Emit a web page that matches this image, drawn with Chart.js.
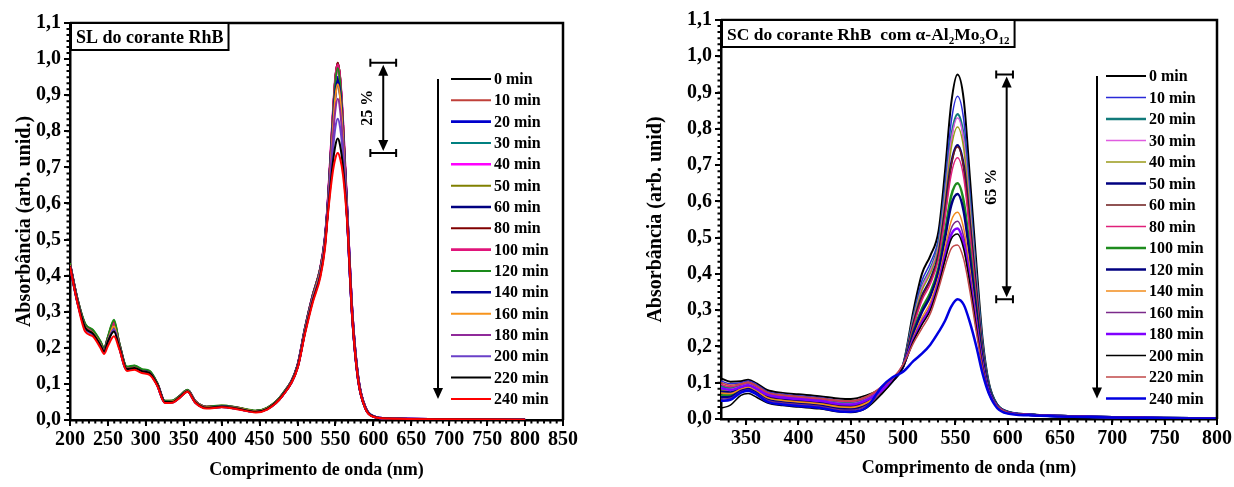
<!DOCTYPE html>
<html lang="pt">
<head>
<meta charset="utf-8">
<title>Absorbância RhB</title>
<script src="https://cdn.jsdelivr.net/npm/chart.js@4.4.1/dist/chart.umd.min.js"></script>
<style>
  html, body { margin: 0; padding: 0; background: #fff; }
  .wrap { position: relative; width: 1234px; height: 487px; overflow: hidden; }
  .panel { position: absolute; top: 0; width: 617px; height: 487px; }
  #left { left: 0; }
  #right { left: 617px; }
</style>
</head>
<body>
<div class="wrap">
  <div class="panel" id="left"><canvas id="slChart" width="617" height="487"></canvas></div>
  <div class="panel" id="right"><canvas id="scChart" width="617" height="487"></canvas></div>
</div>
<script>
// ── Shared axes / labels ─────────────────────────────────────────
const minutes = [0, 10, 20, 30, 40, 50, 60, 80, 100, 120, 140, 160, 180, 200, 220, 240];
const absTicks = [0, 0.1, 0.2, 0.3, 0.4, 0.5, 0.6, 0.7, 0.8, 0.9, 1.0, 1.1];
const slTicks = [200, 250, 300, 350, 400, 450, 500, 550, 600, 650, 700, 750, 800, 850];
const scTicks = [350, 400, 450, 500, 550, 600, 650, 700, 750, 800];

// ── SL (fotólise) ────────────────────────────────────────────────
const slWavelength = [200, 210, 220, 230, 240, 245, 250, 258, 265, 275, 285, 295, 305, 315, 325, 335, 345, 355, 365, 380, 400, 420, 445, 460, 480, 500, 510, 520, 530, 536, 540, 546, 550, 553, 556, 560, 566, 572, 580, 590, 600, 620, 700, 800];

const sl0   = [0.43,0.33,0.262,0.245,0.213,0.195,0.222,0.262,0.208,0.143,0.146,0.137,0.132,0.1,0.052,0.052,0.066,0.082,0.052,0.036,0.039,0.034,0.025,0.033,0.07,0.15,0.255,0.345,0.42,0.5,0.6,0.822,0.951,0.99,0.951,0.818,0.55,0.3,0.115,0.032,0.01,0.004,0.002,0.001];
const sl10  = [0.43,0.328,0.258,0.243,0.212,0.194,0.224,0.266,0.207,0.142,0.145,0.136,0.131,0.099,0.05,0.051,0.065,0.081,0.051,0.035,0.038,0.033,0.024,0.032,0.069,0.149,0.253,0.343,0.418,0.498,0.598,0.82,0.95,0.99,0.95,0.816,0.549,0.299,0.114,0.031,0.01,0.004,0.002,0.001];
const sl20  = [0.428,0.326,0.256,0.24,0.209,0.19,0.219,0.256,0.203,0.14,0.143,0.134,0.129,0.098,0.049,0.05,0.064,0.08,0.05,0.034,0.037,0.032,0.023,0.031,0.068,0.148,0.251,0.34,0.414,0.494,0.594,0.8,0.915,0.95,0.915,0.796,0.545,0.297,0.113,0.031,0.01,0.004,0.002,0.001];
const sl30  = [0.432,0.332,0.264,0.247,0.216,0.197,0.227,0.27,0.21,0.144,0.148,0.138,0.133,0.101,0.052,0.053,0.067,0.083,0.052,0.036,0.039,0.034,0.025,0.033,0.071,0.151,0.256,0.346,0.42,0.5,0.6,0.819,0.947,0.985,0.947,0.816,0.55,0.3,0.115,0.032,0.01,0.004,0.002,0.001];
const sl40  = [0.43,0.33,0.26,0.244,0.213,0.194,0.224,0.262,0.207,0.142,0.146,0.136,0.131,0.1,0.051,0.051,0.066,0.081,0.051,0.035,0.038,0.033,0.024,0.032,0.07,0.15,0.254,0.344,0.418,0.498,0.598,0.817,0.942,0.98,0.942,0.813,0.549,0.299,0.114,0.032,0.01,0.004,0.002,0.001];
const sl50  = [0.434,0.334,0.266,0.249,0.218,0.199,0.23,0.275,0.213,0.146,0.15,0.14,0.135,0.102,0.053,0.053,0.067,0.083,0.053,0.037,0.04,0.035,0.025,0.033,0.071,0.151,0.256,0.345,0.419,0.499,0.599,0.814,0.938,0.975,0.938,0.81,0.549,0.299,0.115,0.032,0.01,0.004,0.002,0.001];
const sl60  = [0.43,0.33,0.261,0.245,0.214,0.195,0.225,0.265,0.209,0.143,0.147,0.137,0.132,0.1,0.051,0.052,0.066,0.082,0.052,0.036,0.038,0.034,0.024,0.032,0.069,0.149,0.252,0.341,0.415,0.495,0.595,0.797,0.91,0.945,0.91,0.793,0.546,0.298,0.114,0.031,0.01,0.004,0.002,0.001];
const sl80  = [0.432,0.332,0.264,0.247,0.215,0.197,0.227,0.27,0.21,0.145,0.148,0.138,0.133,0.101,0.052,0.052,0.066,0.082,0.052,0.036,0.039,0.034,0.025,0.033,0.07,0.15,0.255,0.345,0.42,0.5,0.6,0.822,0.951,0.99,0.951,0.818,0.55,0.3,0.115,0.032,0.01,0.004,0.002,0.001];
const sl100 = [0.431,0.331,0.263,0.246,0.214,0.196,0.226,0.268,0.209,0.144,0.147,0.137,0.132,0.1,0.051,0.052,0.066,0.082,0.052,0.036,0.038,0.034,0.024,0.032,0.07,0.15,0.254,0.344,0.419,0.499,0.599,0.819,0.947,0.985,0.947,0.816,0.55,0.3,0.115,0.032,0.01,0.004,0.002,0.001];
const sl120 = [0.434,0.335,0.267,0.25,0.219,0.2,0.231,0.278,0.214,0.148,0.151,0.141,0.136,0.103,0.053,0.054,0.068,0.084,0.053,0.037,0.04,0.035,0.026,0.034,0.072,0.152,0.257,0.346,0.42,0.5,0.6,0.814,0.938,0.975,0.938,0.81,0.549,0.299,0.115,0.032,0.01,0.004,0.002,0.001];
const sl140 = [0.428,0.327,0.257,0.241,0.21,0.191,0.22,0.255,0.204,0.141,0.144,0.135,0.13,0.098,0.05,0.05,0.064,0.08,0.05,0.034,0.037,0.032,0.023,0.031,0.068,0.148,0.25,0.34,0.413,0.493,0.593,0.794,0.906,0.94,0.906,0.79,0.545,0.297,0.113,0.031,0.01,0.004,0.002,0.001];
const sl160 = [0.429,0.328,0.258,0.242,0.211,0.192,0.221,0.26,0.205,0.142,0.145,0.135,0.13,0.099,0.05,0.051,0.065,0.081,0.051,0.035,0.037,0.033,0.024,0.032,0.069,0.148,0.25,0.339,0.412,0.492,0.592,0.788,0.897,0.93,0.897,0.785,0.545,0.297,0.113,0.031,0.01,0.004,0.002,0.001];
const sl180 = [0.427,0.325,0.254,0.238,0.207,0.189,0.216,0.25,0.2,0.14,0.142,0.133,0.128,0.097,0.049,0.049,0.063,0.079,0.049,0.033,0.036,0.031,0.022,0.03,0.067,0.146,0.246,0.334,0.406,0.486,0.586,0.765,0.861,0.89,0.861,0.762,0.542,0.295,0.112,0.031,0.01,0.004,0.002,0.001];
const sl200 = [0.426,0.324,0.253,0.237,0.206,0.188,0.217,0.252,0.2,0.139,0.142,0.133,0.128,0.097,0.049,0.049,0.063,0.079,0.049,0.033,0.036,0.031,0.022,0.03,0.067,0.145,0.244,0.331,0.402,0.482,0.58,0.734,0.812,0.835,0.812,0.732,0.538,0.293,0.111,0.03,0.01,0.004,0.002,0.001];
const sl220 = [0.427,0.326,0.256,0.24,0.208,0.19,0.218,0.245,0.202,0.141,0.144,0.135,0.13,0.099,0.05,0.05,0.064,0.08,0.05,0.034,0.037,0.032,0.023,0.031,0.068,0.146,0.244,0.33,0.4,0.478,0.574,0.703,0.762,0.78,0.762,0.7,0.534,0.291,0.11,0.03,0.01,0.004,0.002,0.001];
const sl240 = [0.425,0.322,0.245,0.232,0.2,0.183,0.205,0.232,0.196,0.136,0.139,0.13,0.125,0.095,0.047,0.048,0.062,0.078,0.048,0.032,0.035,0.03,0.021,0.029,0.066,0.143,0.24,0.325,0.395,0.472,0.568,0.68,0.726,0.74,0.726,0.678,0.53,0.289,0.109,0.029,0.009,0.004,0.002,0.001];

const slSeries = [sl0, sl10, sl20, sl30, sl40, sl50, sl60, sl80, sl100, sl120, sl140, sl160, sl180, sl200, sl220, sl240];
const slColors = ['#000000', '#c0403a', '#0000cc', '#008080', '#ff00ff', '#808000', '#000080', '#800000', '#e0147a', '#1a8a1a', '#000099', '#f7941d', '#902a9a', '#6a40c8', '#000000', '#ff0000'];
const slWidths = [2, 2, 2.6, 2, 2.6, 2, 2.6, 2, 2.6, 2, 2.6, 2, 2, 2, 2, 2];

// ── SC (com α-Al2Mo3O12) ─────────────────────────────────────────
const scWavelength = [326, 335, 345, 352, 360, 370, 385, 400, 420, 440, 450, 465, 480, 490, 500, 510, 518, 526, 534, 540, 546, 552, 558, 564, 570, 576, 582, 590, 600, 620, 650, 700, 750, 800];

const sc0   = [.112,.103,.104,.108,.098,.08,.072,.068,.063,.056,.055,.065,.085,.11,.15,.30,.40,.45,.52,.68,.87,.95,.88,.66,.43,.22,.10,.04,.02,.013,.009,.005,.003,.001];
const sc10  = [.105,.097,.1,.105,.095,.076,.068,.064,.059,.051,.05,.061,.082,.108,.148,.288,.381,.43,.5,.647,.819,.89,.824,.62,.406,.21,.096,.039,.02,.013,.009,.005,.003,.001];
const sc20  = [.09,.085,.093,.098,.088,.07,.062,.058,.053,.046,.045,.056,.08,.107,.147,.279,.365,.413,.483,.619,.776,.84,.777,.587,.386,.201,.093,.039,.02,.012,.008,.005,.003,.001];
const sc30  = [.085,.081,.09,.095,.085,.067,.059,.055,.05,.043,.042,.054,.08,.107,.147,.277,.362,.409,.479,.614,.768,.83,.768,.581,.382,.2,.092,.039,.02,.012,.008,.005,.003,.001];
const sc40  = [.08,.077,.087,.092,.082,.064,.056,.052,.047,.041,.04,.052,.078,.106,.146,.272,.354,.401,.471,.6,.746,.805,.744,.564,.371,.195,.091,.038,.02,.012,.008,.005,.003,.001];
const sc50  = [.075,.073,.085,.09,.08,.062,.054,.05,.045,.037,.036,.048,.078,.106,.146,.263,.338,.384,.454,.572,.704,.755,.697,.531,.351,.187,.088,.038,.019,.012,.008,.005,.003,.001];
const sc60  = [.07,.069,.082,.087,.077,.06,.052,.048,.043,.035,.034,.046,.076,.105,.145,.262,.336,.382,.452,.569,.70,.75,.693,.528,.349,.186,.087,.038,.019,.012,.008,.005,.003,.001];
const sc80  = [.095,.089,.095,.1,.09,.072,.064,.06,.055,.049,.048,.06,.085,.109,.148,.256,.327,.372,.442,.553,.674,.72,.665,.508,.337,.181,.085,.038,.019,.012,.008,.005,.003,.001];
const sc100 = [.065,.065,.08,.085,.075,.057,.049,.045,.04,.031,.03,.042,.076,.105,.145,.243,.304,.348,.418,.514,.615,.65,.599,.462,.309,.169,.081,.037,.019,.012,.008,.005,.003,.001];
const sc120 = [.06,.061,.078,.083,.073,.054,.046,.042,.037,.028,.027,.039,.075,.104,.144,.237,.295,.338,.408,.497,.589,.62,.571,.442,.297,.164,.079,.036,.019,.012,.008,.005,.003,.001];
const sc140 = [.072,.07,.083,.088,.078,.059,.051,.047,.042,.033,.032,.044,.077,.106,.146,.227,.279,.321,.391,.47,.546,.57,.524,.409,.276,.155,.076,.036,.018,.012,.008,.005,.003,.001];
const sc160 = [.055,.057,.075,.08,.07,.052,.044,.04,.035,.025,.024,.036,.074,.104,.144,.222,.271,.312,.382,.456,.525,.545,.501,.393,.266,.151,.074,.036,.018,.012,.008,.005,.003,.001];
const sc180 = [.085,.08,.088,.093,.083,.067,.059,.055,.05,.041,.04,.052,.08,.108,.147,.219,.264,.305,.375,.445,.508,.525,.482,.38,.258,.148,.073,.035,.018,.012,.008,.005,.003,.001];
const sc200 = [.03,.038,.065,.07,.06,.045,.037,.033,.028,.019,.018,.03,.07,.103,.143,.216,.26,.30,.37,.437,.496,.51,.468,.37,.252,.145,.072,.035,.018,.012,.008,.005,.003,.001];
const sc220 = [.1,.093,.097,.102,.092,.074,.066,.062,.057,.051,.05,.062,.09,.112,.15,.21,.25,.29,.36,.42,.47,.48,.44,.35,.24,.14,.07,.035,.018,.012,.008,.005,.003,.001];
const sc240 = [.05,.053,.073,.078,.068,.048,.04,.036,.031,.021,.02,.032,.09,.115,.13,.16,.18,.205,.24,.27,.31,.33,.315,.265,.2,.125,.07,.03,.015,.01,.007,.004,.002,.001];

const scSeries = [sc0, sc10, sc20, sc30, sc40, sc50, sc60, sc80, sc100, sc120, sc140, sc160, sc180, sc200, sc220, sc240];
const scColors = ['#000000', '#2a2ad8', '#127a7a', '#e05ce0', '#9a9a1a', '#000080', '#6b1a1a', '#e0207a', '#1e8c1e', '#000080', '#f28c1c', '#7b2a8a', '#8000ff', '#000000', '#c04848', '#0000e0'];
const scWidths = [2, 1.5, 2.5, 1.5, 1.5, 2.5, 1.5, 1.5, 2.5, 2.5, 1.5, 1.5, 2.5, 1.5, 1.5, 2.5];

// ── Helpers ──────────────────────────────────────────────────────
const serif = '"Liberation Serif", "Times New Roman", serif';
const fmtAbs = v => v.toFixed(1).replace('.', ',');
const peak = arr => Math.max(...arr);

function arrowHead(ctx, x, y, dir) {
  // dir: 1 points down, -1 points up
  ctx.beginPath();
  ctx.moveTo(x, y);
  ctx.lineTo(x - 5, y - dir * 11);
  ctx.lineTo(x + 5, y - dir * 11);
  ctx.closePath();
  ctx.fill();
}

function minorTicks(ctx, scale, majors, parts, a) {
  const step = (majors[1] - majors[0]) / parts;
  let v = majors[0];
  while (v - step >= scale.min - 1e-9) v -= step;
  ctx.beginPath();
  for (; v <= scale.max + 1e-9; v += step) {
    const p = scale.getPixelForValue(v);
    if (scale.isHorizontal()) { ctx.moveTo(p, a.bottom); ctx.lineTo(p, a.bottom + 3.5); }
    else { ctx.moveTo(a.left, p); ctx.lineTo(a.left - 3.5, p); }
  }
  ctx.stroke();
}

// ── Decorations: frame, minor ticks, title box, legend, arrows ───
const decorPlugin = {
  id: 'decor',
  afterDraw(chart, args, o) {
    const { ctx, chartArea: a, scales: { x, y } } = chart;
    ctx.save();
    ctx.strokeStyle = '#000';
    ctx.fillStyle = '#000';

    // box frame (top + right)
    ctx.lineWidth = 2.5;
    ctx.beginPath();
    ctx.moveTo(a.left, a.top);
    ctx.lineTo(a.right, a.top);
    ctx.lineTo(a.right, a.bottom);
    ctx.stroke();

    ctx.lineWidth = 2;
    minorTicks(ctx, x, o.xTicks, 6, a);
    minorTicks(ctx, y, absTicks, 6, a);

    // title box
    const big = o.titleSize, small = Math.round(o.titleSize * 0.65);
    ctx.textBaseline = 'alphabetic';
    ctx.textAlign = 'left';
    let tw = 0;
    o.title.forEach(([txt, sub]) => {
      ctx.font = `bold ${sub ? small : big}px ${serif}`;
      tw += ctx.measureText(txt).width;
    });
    const bx = a.left + 1, by = a.top;
    ctx.fillStyle = '#fff';
    ctx.fillRect(bx, by, tw + 10, 27);
    ctx.lineWidth = 2;
    ctx.strokeRect(bx, by, tw + 10, 27);
    ctx.fillStyle = '#000';
    let tx = bx + 5;
    o.title.forEach(([txt, sub]) => {
      ctx.font = `bold ${sub ? small : big}px ${serif}`;
      ctx.fillText(txt, tx, by + 20 + (sub ? 4 : 0));
      tx += ctx.measureText(txt).width;
    });

    // legend with downward arrow
    const lx0 = a.right - o.legendX;
    const top = a.top + 56;
    ctx.font = `bold 16px ${serif}`;
    ctx.textBaseline = 'middle';
    chart.data.datasets.forEach((ds, i) => {
      const ly = top + i * o.legendStep;
      ctx.strokeStyle = ds.borderColor;
      ctx.lineWidth = ds.borderWidth;
      ctx.beginPath();
      ctx.moveTo(lx0, ly);
      ctx.lineTo(lx0 + 40, ly);
      ctx.stroke();
      ctx.fillStyle = '#000';
      ctx.fillText(ds.label, lx0 + 43, ly + 1);
    });
    const n = chart.data.datasets.length;
    const ax = lx0 - o.arrowGap;
    const abot = top + (n - 1) * o.legendStep;
    ctx.strokeStyle = '#000';
    ctx.fillStyle = '#000';
    ctx.lineWidth = 2;
    ctx.beginPath();
    ctx.moveTo(ax, top);
    ctx.lineTo(ax, abot - 8);
    ctx.stroke();
    arrowHead(ctx, ax, abot, 1);

    // percentage drop between first and last peak
    const [c0, cx, c1] = o.dropX.map(v => x.getPixelForValue(v));
    const yt = y.getPixelForValue(o.drop[0]);
    const yb = y.getPixelForValue(o.drop[1]);
    ctx.lineWidth = 2;
    ctx.beginPath();
    ctx.moveTo(c0, yt); ctx.lineTo(c1, yt);
    ctx.moveTo(c0, yt - 4); ctx.lineTo(c0, yt + 4);
    ctx.moveTo(c1, yt - 4); ctx.lineTo(c1, yt + 4);
    ctx.moveTo(c0, yb); ctx.lineTo(c1, yb);
    ctx.moveTo(c0, yb - 4); ctx.lineTo(c0, yb + 4);
    ctx.moveTo(c1, yb - 4); ctx.lineTo(c1, yb + 4);
    ctx.moveTo(cx, yt + 10); ctx.lineTo(cx, yb - 10);
    ctx.stroke();
    arrowHead(ctx, cx, yt + 2, -1);
    arrowHead(ctx, cx, yb - 2, 1);

    ctx.translate(cx - 15, (yt + yb) / 2);
    ctx.rotate(-Math.PI / 2);
    ctx.textAlign = 'center';
    ctx.textBaseline = 'middle';
    ctx.font = `bold 16px ${serif}`;
    ctx.fillText(o.dropLabel, 0, 0);
    ctx.restore();
  }
};

// ── Chart builder ────────────────────────────────────────────────
function axisStyle() {
  return {
    grid: { drawOnChartArea: false, drawTicks: true, tickLength: 6, lineWidth: 2, color: '#000' },
    border: { display: true, width: 2.5, color: '#000' },
  };
}

function makeChart(id, cfg) {
  return new Chart(document.getElementById(id), {
    type: 'line',
    data: {
      datasets: cfg.series.map((vals, i) => ({
        label: minutes[i] + ' min',
        data: vals.map((v, k) => ({ x: cfg.wl[k], y: v })),
        borderColor: cfg.colors[i],
        borderWidth: cfg.widths[i],
        pointRadius: 0,
        fill: false,
        cubicInterpolationMode: 'monotone',
        order: cfg.series.length - 1 - i,
      }))
    },
    options: {
      responsive: false,
      animation: false,
      layout: { padding: cfg.padding },
      plugins: {
        legend: { display: false },
        tooltip: { enabled: false },
        decor: cfg.decor,
      },
      scales: {
        x: {
          type: 'linear',
          min: cfg.xMin,
          max: cfg.xMax,
          ...axisStyle(),
          afterBuildTicks: s => { s.ticks = cfg.decor.xTicks.map(v => ({ value: v })); },
          afterFit: s => { s.height = cfg.xHeight; },
          ticks: { color: '#000', font: { family: serif, size: 20, weight: 'bold' }, padding: 2, maxRotation: 0, autoSkip: false },
          title: {
            display: true, text: 'Comprimento de onda (nm)', color: '#000',
            font: { family: serif, size: 18, weight: 'bold' },
            padding: { top: 0, bottom: cfg.xTitlePad }
          }
        },
        y: {
          type: 'linear',
          min: 0,
          max: 1.1,
          ...axisStyle(),
          afterBuildTicks: s => { s.ticks = absTicks.map(v => ({ value: v })); },
          afterFit: s => { s.width = cfg.yWidth; },
          ticks: { color: '#000', font: { family: serif, size: 20, weight: 'bold' }, padding: 3, callback: fmtAbs },
          title: {
            display: true, text: cfg.yTitle, color: '#000',
            font: { family: serif, size: 20, weight: 'bold' },
            padding: { top: cfg.yTitlePad, bottom: 0 }
          }
        }
      }
    },
    plugins: [decorPlugin]
  });
}

makeChart('slChart', {
  wl: slWavelength, series: slSeries, colors: slColors, widths: slWidths,
  xMin: 200, xMax: 850,
  padding: { top: 23, right: 54, bottom: 0, left: 0 },
  yWidth: 70, xHeight: 67, yTitlePad: 13, xTitlePad: 6,
  yTitle: 'Absorbância (arb. unid.)',
  decor: {
    xTicks: slTicks,
    title: [['SL do corante RhB', false]],
    titleSize: 18,
    legendX: 112, legendStep: 21.33, arrowGap: 13,
    drop: [peak(sl0), peak(sl240)], dropX: [596, 613, 630], dropLabel: '25 %'
  }
});

makeChart('scChart', {
  wl: scWavelength, series: scSeries, colors: scColors, widths: scWidths,
  xMin: 326, xMax: 800,
  padding: { top: 20, right: 16, bottom: 0, left: 0 },
  yWidth: 104, xHeight: 68, yTitlePad: 27, xTitlePad: 8,
  yTitle: 'Absorbância (arb. unid)',
  decor: {
    xTicks: scTicks,
    title: [['SC do corante RhB  com α-Al', false], ['2', true], ['Mo', false], ['3', true], ['O', false], ['12', true]],
    titleSize: 17.5,
    legendX: 111, legendStep: 21.5, arrowGap: 9,
    drop: [peak(sc0), peak(sc240)], dropX: [589, 599, 605], dropLabel: '65 %'
  }
});
</script>
</body>
</html>
